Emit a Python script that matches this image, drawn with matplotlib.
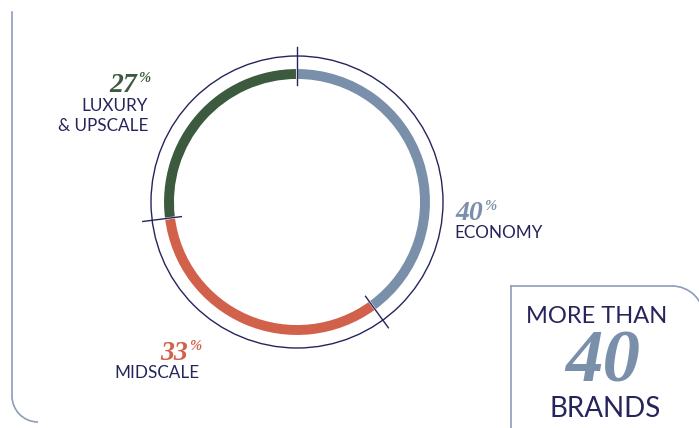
import numpy as np
import matplotlib
matplotlib.use("Agg")
import matplotlib.pyplot as plt
from matplotlib.patches import Arc, Circle

# data
segments = [["ECONOMY"], ["MIDSCALE"], ["LUXURY", "& UPSCALE"]]
shares = [40, 33, 27]
colors = ["#7a90aa", "#d2614b", "#3c5a3d"]
brands_count = "40"

navy = "#25255c"
frame = "#8d9dba"
sans = "Lato"
serif = "Liberation Serif"

W, H = 699, 428
fig = plt.figure(figsize=(W / 100, H / 100), dpi=100)

# background axes in pixel coordinates
bg = fig.add_axes([0, 0, 1, 1])
bg.set_xlim(0, W)
bg.set_ylim(H, 0)
bg.axis("off")

# left frame with rounded bottom corner
bg.plot([12, 12], [12, 396], color=frame, lw=1.2)
bg.add_patch(Arc((38, 396), 52, 52, theta1=90, theta2=180, color=frame, lw=1.2))

# box bottom right
bg.plot([511, 511], [286, H], color=frame, lw=1.2)
bg.plot([511, 672], [286, 286], color=frame, lw=1.2)
bg.add_patch(Arc((672, 318), 64, 64, theta1=270, theta2=360, color=frame, lw=1.2))
bg.text(597, 323, "MORE THAN", ha="center", va="baseline", fontsize=17,
        family=sans, color=navy)
bg.text(603, 382, brands_count, ha="center", va="baseline", fontsize=54,
        family=serif, fontweight="bold", style="italic", color=colors[0])
bg.text(605, 417, "BRANDS", ha="center", va="baseline", fontsize=20,
        family=sans, color=navy)

# donut
cx, cy, R = 297, 202, 134
span = 1.22
pa = fig.add_axes([(cx - span * R) / W, (H - cy - span * R) / H,
                   2 * span * R / W, 2 * span * R / H])
pa.pie(shares, colors=colors, startangle=90, counterclock=False, radius=1,
       wedgeprops=dict(width=12 / R, edgecolor="white", linewidth=1.5))
pa.set_xlim(-span, span)
pa.set_ylim(-span, span)
pa.axis("off")
pa.add_patch(Circle((0, 0), 146 / R, fill=False, color=navy, lw=1))

bounds = np.concatenate([[0], np.cumsum(shares)[:-1]]) / sum(shares)
for b in bounds:
    a = np.deg2rad(90 - 360 * b)
    pa.plot([0.87 * np.cos(a), 1.16 * np.cos(a)], [0.87 * np.sin(a), 1.16 * np.sin(a)],
            color=navy, lw=1)

# labels: (pct x right edge, baseline y, label anchor x, ha, first label baseline y)
label_pos = [(483, 220, 454, "left", 238),
             (188, 360, 199, "right", 378),
             (137, 92, 148, "right", 111)]
for lines, v, c, (px, py, lx, ha, ly) in zip(segments, shares, colors, label_pos):
    bg.text(px, py, str(v), ha="right", va="baseline", fontsize=20,
            family=serif, fontweight="bold", style="italic", color=c)
    bg.text(px + 1, py - 10, "%", ha="left", va="baseline", fontsize=10.5,
            family=serif, fontweight="bold", style="italic", color=c)
    for i, line in enumerate(lines):
        bg.text(lx, ly + 20 * i, line, ha=ha, va="baseline", fontsize=12.3,
                family=sans, color=navy)

fig.savefig("out.png", dpi=100)
